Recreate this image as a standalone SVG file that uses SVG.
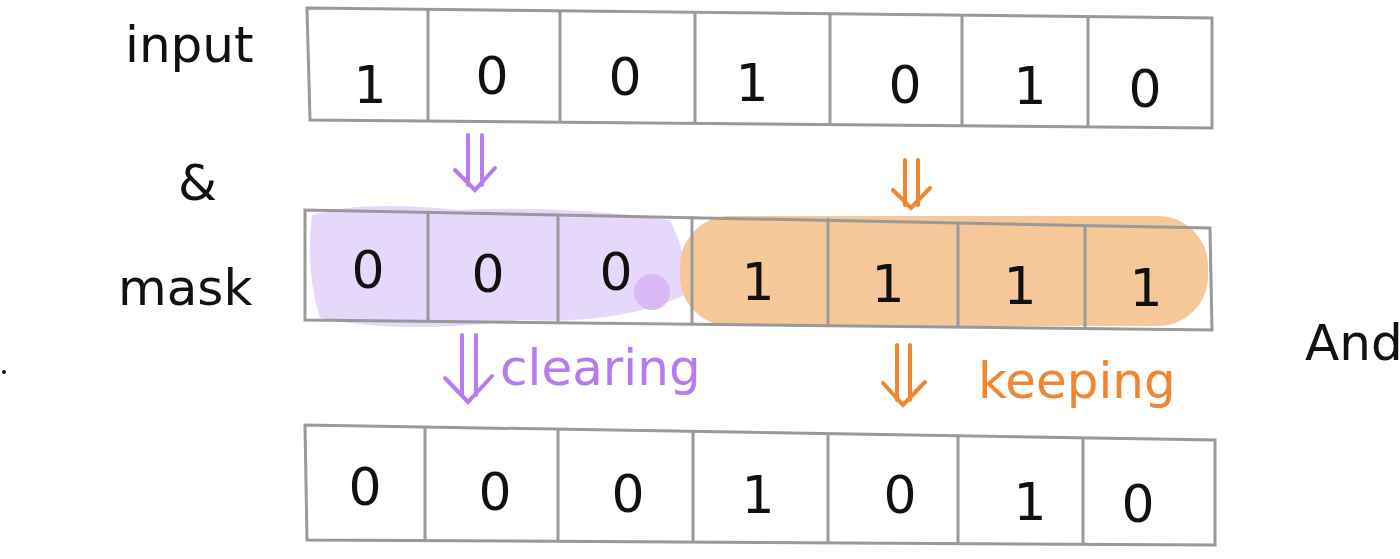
<svg xmlns="http://www.w3.org/2000/svg" width="1400" height="559" viewBox="0 0 1400 559">
<style>
.box{fill:none;stroke:#999;stroke-width:3}
.d{font-family:"DejaVu Sans",sans-serif;font-size:52px;fill:#111;text-anchor:middle}
.lbl{font-family:"DejaVu Sans",sans-serif;font-size:50px;fill:#111}
.pa{stroke:#b57cf0;stroke-width:4;fill:none;stroke-linecap:round}
.oa{stroke:#f08532;stroke-width:4;fill:none;stroke-linecap:round}
</style>
<rect width="1400" height="559" fill="#fff"/>
<g id="highlights">
<path d="M312,215 Q360,200 460,210 Q560,205 670,220 Q690,260 685,295 Q620,325 520,320 Q400,335 320,318 Q305,270 312,215Z" fill="#e6d8fb"/>
<circle cx="652" cy="292" r="18" fill="#d8b9f5"/>
<rect x="680" y="216" width="528" height="110" rx="50" fill="#f5c799"/>
</g>
<g id="row-input">
<path class="box" d="M307,8 L1212,18 L1212,128 L310,120 Z"/>
<path class="box" d="M428,10 V122 M560,12 V123 M695,13 V124 M830,14 V125 M962,15 V127 M1088,17 V128"/>
<text class="d" x="370" y="103">1</text><text class="d" x="492" y="94">0</text><text class="d" x="625" y="95">0</text><text class="d" x="752" y="101">1</text><text class="d" x="905" y="103">0</text><text class="d" x="1030" y="104">1</text><text class="d" x="1145" y="107">0</text>
</g>
<g id="row-mask">
<path class="box" d="M305,210 L1210,228 L1212,330 L305,320 Z"/>
<path class="box" d="M428,212 V322 M558,214 V323 M692,216 V324 M828,218 V326 M958,222 V327 M1085,225 V329"/>
<text class="d" x="368" y="288">0</text><text class="d" x="488" y="292">0</text><text class="d" x="616" y="290">0</text><text class="d" x="758" y="300">1</text><text class="d" x="888" y="302">1</text><text class="d" x="1020" y="304">1</text><text class="d" x="1146" y="306">1</text>
</g>
<g id="row-result">
<path class="box" d="M305,425 L1215,440 L1215,545 L307,540 Z"/>
<path class="box" d="M425,427 V541 M558,430 V542 M693,432 V543 M828,434 V544 M958,436 V544 M1083,438 V545"/>
<text class="d" x="365" y="505">0</text><text class="d" x="495" y="510">0</text><text class="d" x="628" y="512">0</text><text class="d" x="758" y="513">1</text><text class="d" x="900" y="513">0</text><text class="d" x="1030" y="520">1</text><text class="d" x="1138" y="522">0</text>
</g>
<g id="labels">
<text class="lbl" x="125" y="62">input</text>
<text class="lbl" x="178" y="200">&amp;</text>
<text class="lbl" x="118" y="305">mask</text>
<text class="lbl" x="1305" y="360">And</text>
<circle cx="4" cy="372" r="2" fill="#111"/>
<text x="500" y="385" font-family="DejaVu Sans,sans-serif" font-size="50" fill="#b57cf0">clearing</text>
<text x="978" y="398" font-family="DejaVu Sans,sans-serif" font-size="50" fill="#f08532">keeping</text>
</g>
<g id="connectors">
<path class="pa" d="M468,135 V185 M482,135 V185 M455,170 L475,190 L495,168"/>
<path class="oa" d="M905,160 V205 M918,160 V205 M893,190 L911,208 L930,188"/>
<path class="pa" d="M462,335 V395 M476,335 V395 M445,378 L468,402 L492,376"/>
<path class="oa" d="M897,345 V400 M910,345 V400 M883,383 L903,405 L925,382"/>
</g>
</svg>
